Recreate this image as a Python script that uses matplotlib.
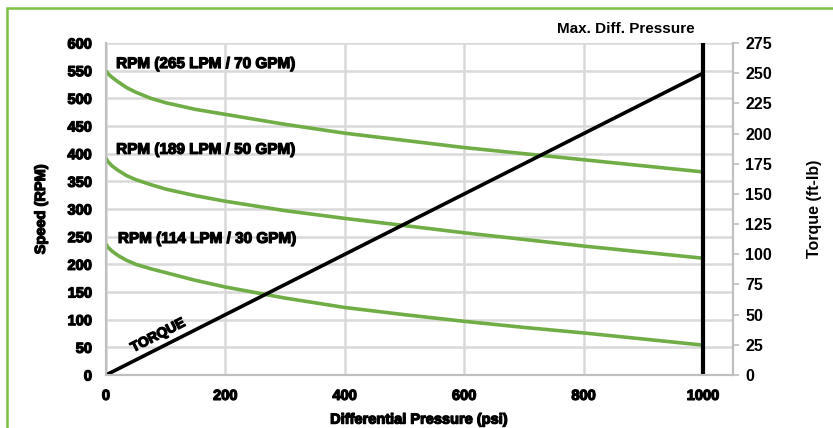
import matplotlib.pyplot as plt
import matplotlib.patheffects as pe
from matplotlib.patches import Rectangle

# дані
pressure = [0, 3, 10, 20, 35, 50, 75, 100, 150, 200, 300, 400, 500, 600, 700, 800, 900, 1000]
rpm_70 = [550, 545, 538, 530, 519, 511, 500, 492, 480, 471, 453, 437, 424, 411, 400, 389, 378, 367]
rpm_50 = [392, 386, 378, 370, 360, 353, 344, 336, 324, 314, 297, 283, 270, 257, 245, 233, 222, 211]
rpm_30 = [237, 231, 224, 216, 207, 200, 192, 185, 171, 159, 139, 122, 109, 97, 86, 76, 65, 54]

torque_p = [0, 1000]
torque_v = [0, 250]
max_p = 1000

x_ticks = [0, 200, 400, 600, 800, 1000]
rpm_ticks = list(range(0, 601, 50))
torque_ticks = list(range(0, 276, 25))

plt.rcParams['font.family'] = ['Liberation Sans', 'DejaVu Sans']
green = '#70ad47'
grid_c = '#d9d9d9'
heavy = [pe.withStroke(linewidth=0.9, foreground='black')]

fig = plt.figure(figsize=(8.33, 4.28), dpi=100)
ax = fig.add_axes([106 / 833, 1 - 375 / 428, 627 / 833, 332 / 428])
ax2 = ax.twinx()

ax.plot(pressure, rpm_70, color=green, lw=2.6, solid_capstyle='butt')
ax.plot(pressure, rpm_50, color=green, lw=2.6, solid_capstyle='butt')
ax.plot(pressure, rpm_30, color=green, lw=2.6, solid_capstyle='butt')

ax.set_xlim(0, 1050)
ax.set_ylim(0, 600)
ax.set_xticks(x_ticks)
ax.set_yticks(rpm_ticks)
ax.grid(True, color=grid_c, lw=1.8)
ax.set_axisbelow(True)
ax.tick_params(axis='both', length=0, labelsize=10.5)
ax.tick_params(axis='y', pad=10)
ax.tick_params(axis='x', pad=10)
for lab in ax.get_xticklabels() + ax.get_yticklabels():
    lab.set_fontweight('bold')
    lab.set_path_effects(heavy)

ax2.plot(torque_p, torque_v, color='black', lw=2.6, solid_capstyle='butt')
ax2.axvline(max_p, color='black', lw=3)
ax2.set_ylim(0, 275)
ax2.set_yticks(torque_ticks)
ax2.tick_params(axis='y', length=4, color='#bfbfbf', width=1.2, labelsize=11.5, pad=5)
for lab in ax2.get_yticklabels():
    lab.set_fontweight('bold')

for a in (ax, ax2):
    a.spines['top'].set_visible(False)
    for s in ('left', 'right', 'bottom'):
        a.spines[s].set_color('#bfbfbf')
        a.spines[s].set_linewidth(1.5)

xl = ax.set_xlabel('Differential Pressure (psi)', fontsize=10.5, fontweight='bold', labelpad=7)
yl = ax.set_ylabel('Speed (RPM)', fontsize=10.5, fontweight='bold', labelpad=14)
xl.set_path_effects(heavy)
yl.set_path_effects(heavy)
ax2.set_ylabel('Torque (ft-lb)', fontsize=11.5, fontweight='bold', labelpad=25)

labels = [(17, 562, 'RPM (265 LPM / 70 GPM)'),
          (17, 407, 'RPM (189 LPM / 50 GPM)'),
          (20, 246, 'RPM (114 LPM / 30 GPM)')]
for x, y, s in labels:
    ax.text(x, y, s, fontsize=11, fontweight='bold', va='center', path_effects=heavy)
ax.text(87, 72, 'TORQUE', fontsize=10, fontweight='bold', rotation=27,
        ha='center', va='center', rotation_mode='anchor', path_effects=heavy)
ax.text(985, 612, 'Max. Diff. Pressure', fontsize=11, fontweight='bold',
        ha='right', va='bottom')

fig.patches.append(Rectangle((7 / 833, -0.1), 1.2, 1 - 8 / 428 + 0.1,
                             transform=fig.transFigure, fill=False,
                             edgecolor='#7dc143', lw=1.8))

fig.savefig('out.png', dpi=100)
